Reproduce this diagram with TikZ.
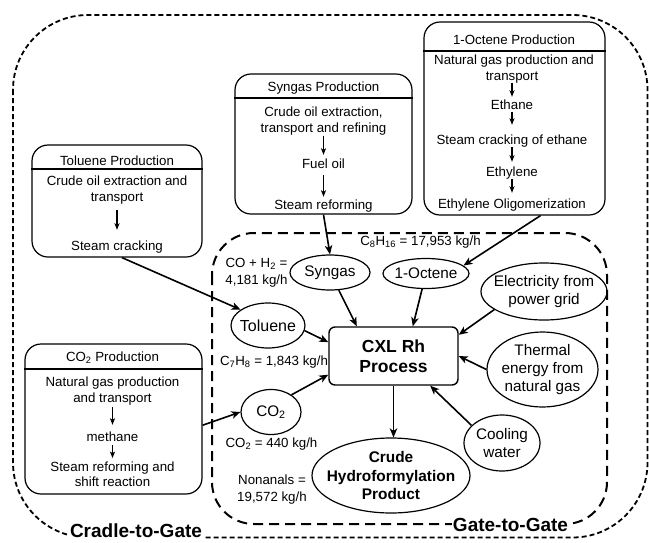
\documentclass[tikz,border=0pt]{standalone}
\usepackage{fontspec}
\setmainfont{Liberation Sans}
\usetikzlibrary{arrows.meta,shapes.geometric}
\begin{document}
\begin{tikzpicture}[x=1pt,y=-1pt,
  txt/.style={font=\fontsize{13.3}{16}\selectfont, inner sep=0pt, text height=9.6pt, text depth=2.8pt, anchor=base},
  lbl/.style={font=\fontsize{13.3}{17}\selectfont, inner sep=0pt, align=center},
  lblb/.style={font=\fontsize{13.3}{17}\selectfont, inner sep=0pt, anchor=base},
  procbox/.style={draw, rounded corners=16pt, line width=1.2pt, inner sep=0pt},
  ell/.style={draw, ellipse, line width=1.2pt, inner sep=0pt},
  etxt/.style={inner sep=0pt, align=center, font=\fontsize{15.3}{18.3}\selectfont},
  flow/.style={-{Stealth[length=9pt,width=7.5pt,inset=2.5pt]}, line width=1.6pt},
  inarr/.style={-{Stealth[length=6.5pt,width=5pt,inset=1.5pt]}, line width=1.2pt},
  sepline/.style={line width=1.2pt},
  bound/.style={font=\bfseries\fontsize{19}{22}\selectfont, fill=white, inner sep=1pt, anchor=base}
]
\useasboundingbox (0,0) rectangle (649,542);

% system boundaries
\draw[line width=1.8pt, dash pattern=on 5pt off 3pt, rounded corners=75pt] (13,15) rectangle (647.5,537.5);
\draw[line width=2pt, dash pattern=on 10pt off 6pt, rounded corners=42pt] (212,233) rectangle (607,524);
\node[bound] (cg) at (136,537.5) {Cradle-to-Gate};
\node[bound] (gg) at (510.5,531) {Gate-to-Gate};

% Toluene production
\node[procbox, minimum width=170pt, minimum height=112pt] (tolbox) at (117,201) {};
\draw[sepline] (tolbox.west |- 0,169) -- (tolbox.east |- 0,169);
\node[txt] (tol0) at (117,165.5) {Toluene Production};
\node[txt] (tol1) at (117,185.7) {Crude oil extraction and};
\node[txt] (tol2) at (117,201.5) {transport};
\node[txt] (tol3) at (117,250.5) {Steam cracking};
\draw[inarr, shorten <=5.7pt, shorten >=10.9pt] (tol2.south) -- (tol3.north);

% Syngas production
\node[procbox, minimum width=177pt, minimum height=140pt] (synbox) at (323.5,144) {};
\draw[sepline] (synbox.west |- 0,98) -- (synbox.east |- 0,98);
\node[txt] (s0) at (323.5,91.5) {Syngas Production};
\node[txt] (s1) at (323.5,116.5) {Crude oil extraction,};
\node[txt] (s2) at (323.5,132) {transport and refining};
\node[txt] (s3) at (323.5,168) {Fuel oil};
\node[txt] (s4) at (323.5,209) {Steam reforming};
\draw[inarr, shorten <=0.5pt, shorten >=3.4pt] (s2.south) -- (s3.north);
\draw[inarr, shorten <=4.2pt, shorten >=2.4pt] (s3.south) -- (s4.north);

% 1-Octene production
\node[procbox, minimum width=181pt, minimum height=193pt] (octbox) at (514.5,118.5) {};
\draw[sepline] (octbox.west |- 0,51) -- (octbox.east |- 0,51);
\node[txt] (o0) at (514,44) {1-Octene Production};
\node[txt] (o1) at (514,64) {Natural gas production and};
\node[txt] (o2) at (512,80) {transport};
\node[txt] (o3) at (512,109) {Ethane};
\node[txt] (o4) at (512,144) {Steam cracking of ethane};
\node[txt] (o5) at (512,176) {Ethylene};
\node[txt] (o6) at (512,208.5) {Ethylene Oligomerization};
\draw[inarr, shorten <=0pt, shorten >=2.4pt] (o2.south) -- (o3.north);
\draw[inarr, shorten <=0pt, shorten >=9.4pt] (o3.south) -- (o4.north);
\draw[inarr, shorten <=0.2pt, shorten >=4.4pt] (o4.south) -- (o5.north);
\draw[inarr, shorten <=0pt, shorten >=5.9pt] (o5.south) -- (o6.north);

% CO2 production
\node[procbox, minimum width=177pt, minimum height=150pt] (co2box) at (113.5,419) {};
\draw[sepline] (co2box.west |- 0,369) -- (co2box.east |- 0,369);
\node[txt] (c0) at (112.5,361.7) {CO\textsubscript{2} Production};
\node[txt] (c1) at (112.5,386.7) {Natural gas production};
\node[txt] (c2) at (112.5,402.3) {and transport};
\node[txt] (c3) at (112.5,441.7) {methane};
\node[txt] (c4) at (112.5,471) {Steam reforming and};
\node[txt] (c5) at (112.5,486.7) {shift reaction};
\draw[inarr, shorten <=1.6pt, shorten >=7.1pt] (c2.south) -- (c3.north);
\draw[inarr, shorten <=0pt, shorten >=3.1pt] (c3.south) -- (c4.north);

% ellipses
\node[ell, minimum width=80pt, minimum height=35pt] (syn) at (330,272.5) {};
\node[etxt] (synt) at (syn) {Syngas};
\node[ell, minimum width=86pt, minimum height=30pt] (oct) at (426,273.5) {};
\node[etxt] (octt) at (oct) {1-Octene};
\node[ell, minimum width=126pt, minimum height=57pt] (elec) at (544,291.5) {};
\node[etxt] (elect) at (elec) {Electricity from\\power grid};
\node[ell, minimum width=111pt, minimum height=75pt] (therm) at (542.5,369.5) {};
\node[etxt] (thermt) at (therm) {Thermal\\energy from\\natural gas};
\node[ell, minimum width=76pt, minimum height=56pt] (cool) at (502,443) {};
\node[etxt] (coolt) at (cool) {Cooling\\water};
\node[ell, minimum width=74pt, minimum height=45pt] (tol) at (268,325.5) {};
\node[etxt, font=\fontsize{16}{19}\selectfont] (tolt) at (tol) {Toluene};
\node[ell, minimum width=60pt, minimum height=45pt] (co2) at (271,412) {};
\node[etxt] (co2t) at (co2) {CO\textsubscript{2}};
\node[ell, minimum width=158pt, minimum height=75pt] (crude) at (391,475.5) {};
\node[etxt, font=\bfseries\fontsize{15.4}{18.7}\selectfont] (crudet) at (crude) {Crude\\Hydroformylation\\Product};

% central process
\node[draw, rounded corners=6pt, line width=1.4pt, minimum width=129pt, minimum height=58pt, align=center, font=\bfseries\fontsize{17.5}{20}\selectfont] (cxl) at (393.5,356) {CXL Rh\\Process};

% stream labels
\node[lbl] (lco) at (256.5,273) {CO + H\textsubscript{2} =\\4,181 kg/h};
\node[lblb] (loct) at (420.5,245) {C\textsubscript{8}H\textsubscript{16} = 17,953 kg/h};
\node[lblb] (ltol) at (274,365) {C\textsubscript{7}H\textsubscript{8} = 1,843 kg/h};
\node[lblb] (lco2) at (271.5,447.5) {CO\textsubscript{2} = 440 kg/h};
\node[lbl] (lnon) at (272,490) {Nonanals =\\19,572 kg/h};

% connectors
\draw[flow] (tolbox.-85) -- (tol.150);
\draw[flow] (synbox.south) -- (syn.north);
\draw[flow] (octbox.-75) -- (oct.12);
\draw[flow] (syn) -- (cxl.141);
\draw[flow] (oct) -- (cxl.57);
\draw[flow] (elec.200) -- (cxl.18);
\draw[flow] (therm.west) -- (cxl.east);
\draw[flow] (cool.150) -- (cxl.-39);
\draw[flow] (cxl.south) -- (cxl.south |- crude.north);
\draw[flow] (tol.-8) -- (cxl.168);
\draw[flow] (co2.40) -- (cxl.196);
\draw[flow] (co2box.-4) -- (co2.west);
\end{tikzpicture}
\end{document}
